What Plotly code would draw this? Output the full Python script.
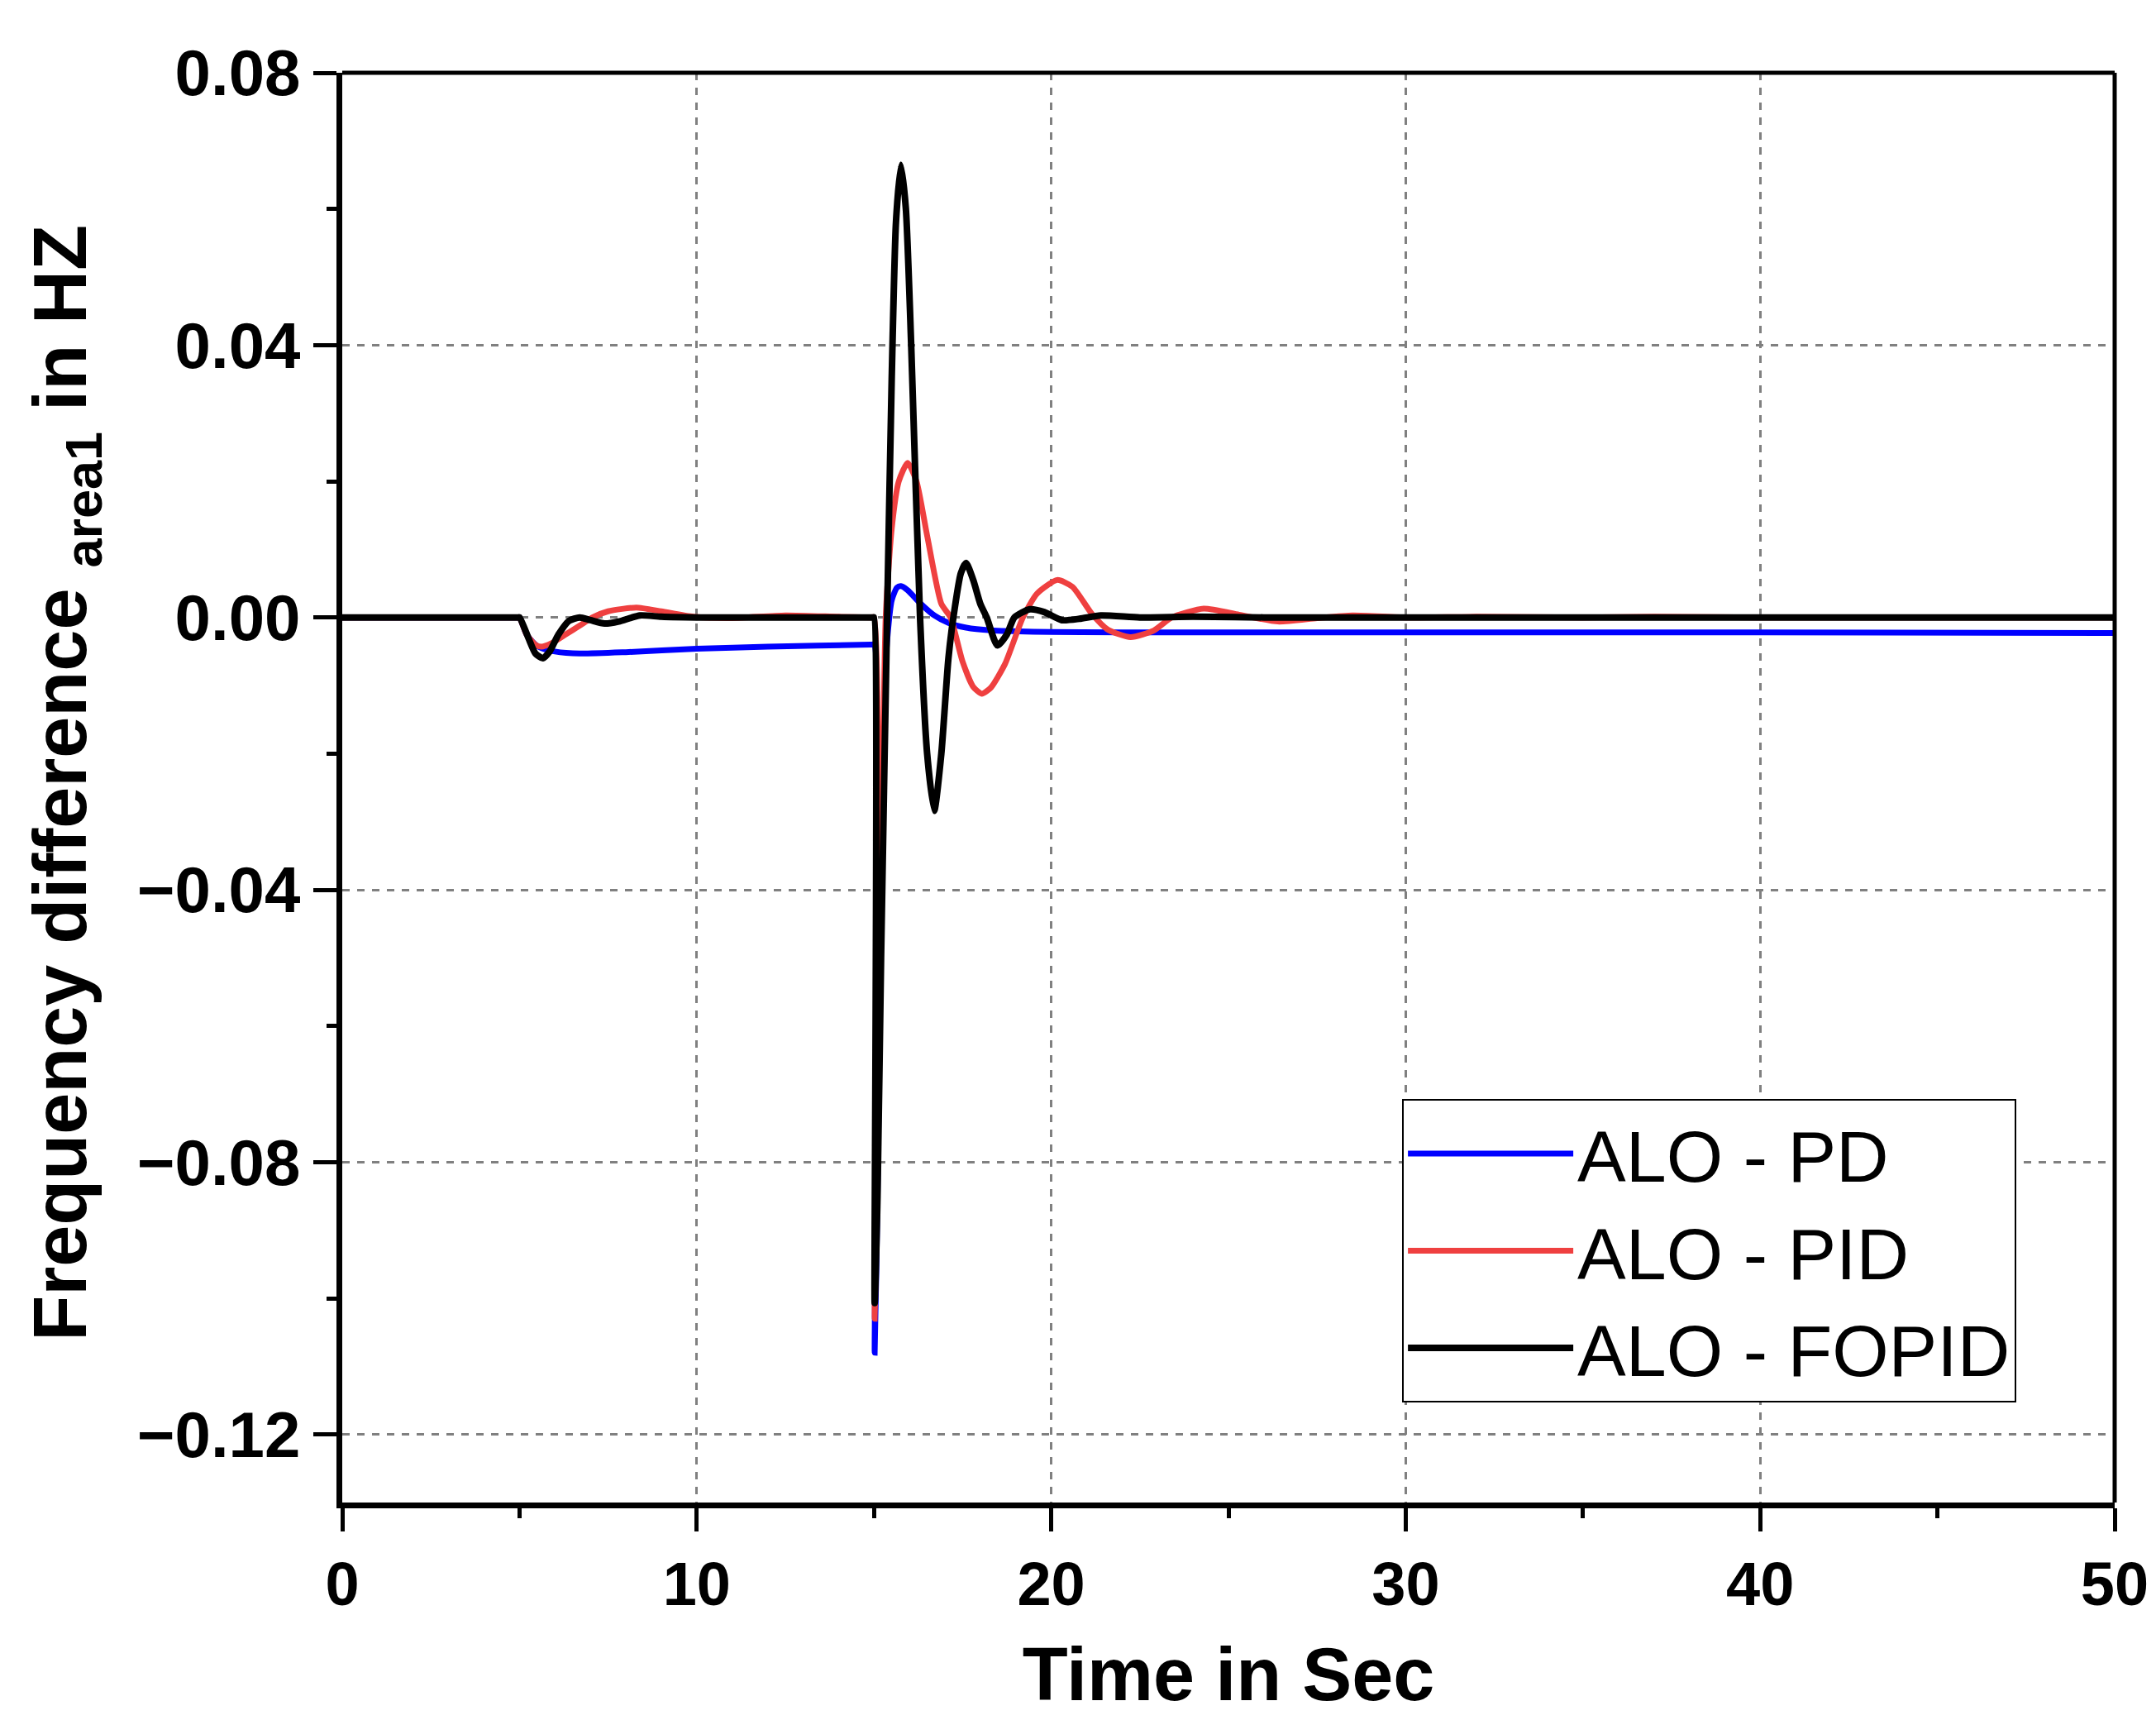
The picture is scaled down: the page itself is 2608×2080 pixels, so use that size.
import plotly.graph_objects as go

# time axis + responses
t_pd = [0, 4.95, 5.0, 5.2, 5.45, 5.62, 6.0, 6.7, 8.0, 10.0, 12.0, 14.9, 15.0,
        15.02, 15.1, 15.2, 15.35, 15.5, 15.65, 15.76, 15.95, 16.3, 16.7, 17.1,
        17.6, 18.3, 19.5, 22.0, 30.0, 40.0, 50.0]
f_pd = [0, 0, 0, -0.0025, -0.0040, -0.0045, -0.0050, -0.0053, -0.0051, -0.0046, -0.0043, -0.0040, -0.0040,
        -0.108, -0.085, -0.045, -0.005, 0.0025, 0.0044, 0.0046, 0.0040, 0.0021, 0.0003, -0.0008,
        -0.0015, -0.0019, -0.0021, -0.0022, -0.0022, -0.0022, -0.0023]

t_pid = [0, 4.95, 5.0, 5.2, 5.45, 5.62, 5.9, 6.3, 6.7, 7.06, 7.5, 8.3, 9.0, 9.9, 11.0, 12.5, 14.0, 14.9, 15.0,
         15.02, 15.1, 15.2, 15.33, 15.5, 15.7, 15.95, 16.2, 16.5, 16.9, 17.16, 17.5, 17.8, 18.04,
         18.3, 18.7, 19.2, 19.6, 20.17, 20.6, 21.15, 21.6, 22.24, 22.9, 23.4, 24.3, 25.3, 26.4,
         27.5, 28.5, 30.0, 32.0, 35.0, 37.0, 40.0, 50.0]
f_pid = [0, 0, 0, -0.0025, -0.0040, -0.0043, -0.0038, -0.0025, -0.0012, 0.0, 0.0009, 0.00146, 0.0009, 0.0001, -0.0001, 0.0003, 0.0001, 0.0, 0.0,
         -0.103, -0.080, -0.045, 0.0, 0.013, 0.020, 0.0227, 0.020, 0.012, 0.002, 0.0, -0.0065, -0.0102, -0.0112,
         -0.0103, -0.0068, 0.0, 0.0035, 0.0055, 0.0045, 0.0005, -0.0018, -0.0029, -0.0019, 0.0, 0.0013, 0.0004, -0.0006,
         -0.0001, 0.0003, 0.0, 0.0001, 0.0, 0.0001, 0.0, 0.0]

t_fopid = [0, 4.95, 5.0, 5.25, 5.45, 5.66, 5.85, 6.1, 6.4, 6.7, 7.0, 7.4, 7.8, 8.4, 9.0, 10.0, 14.9, 14.97, 15.0,
           15.02, 15.1, 15.2, 15.37, 15.5, 15.62, 15.76, 15.9, 16.05, 16.3, 16.5, 16.7, 16.9, 17.1,
           17.24, 17.45, 17.6, 17.8, 18.0, 18.18, 18.48, 18.75, 18.96, 19.4, 19.8, 20.3, 20.8,
           21.4, 22.5, 24.0, 26.0, 50.0]
f_fopid = [0, 0, 0, -0.0030, -0.0053, -0.0060, -0.0050, -0.0025, -0.0005, 0.0, -0.0004, -0.0009, -0.0006, 0.0003, 0.0001, 0.0, 0.0, 0.0, 0.0,
           -0.1007, -0.085, -0.050, 0.0, 0.035, 0.058, 0.0665, 0.060, 0.040, 0.0, -0.020, -0.0284, -0.020, -0.006,
           0.0, 0.0065, 0.008, 0.0055, 0.002, 0.0, -0.0041, -0.0025, 0.0, 0.0012, 0.0008, -0.0004, -0.0002,
           0.0003, 0.0, 0.0001, 0.0, 0.0]

FONT = "Liberation Sans"

fig = go.Figure()
fig.add_trace(go.Scatter(x=t_pd, y=f_pd, mode="lines", name="ALO - PD",
                         line=dict(color="#0000FF", width=7, shape="spline", smoothing=0.6)))
fig.add_trace(go.Scatter(x=t_pid, y=f_pid, mode="lines", name="ALO - PID",
                         line=dict(color="#EF4040", width=7, shape="spline", smoothing=0.6)))
fig.add_trace(go.Scatter(x=t_fopid, y=f_fopid, mode="lines", name="ALO - FOPID",
                         line=dict(color="#000000", width=8, shape="spline", smoothing=0.6)))

axis_common = dict(
    showline=True, linecolor="black", linewidth=7, mirror=False,
    ticks="outside", ticklen=28, tickwidth=5, tickcolor="black",
    showgrid=True, gridcolor="#808080", gridwidth=2.5, griddash="dash",
    zeroline=False,
)

fig.update_layout(
    width=2608, height=2080,
    paper_bgcolor="white", plot_bgcolor="white",
    margin=dict(l=406, r=58, t=80, b=271),
    font=dict(family=FONT, color="black"),
    xaxis=dict(
        range=[0, 50], tickvals=[0, 10, 20, 30, 40, 50],
        tickfont=dict(family=FONT, size=74, color="black", weight="bold"),
        minor=dict(tickvals=[5, 15, 25, 35, 45], ticks="outside", ticklen=12,
                   tickwidth=5, tickcolor="black", showgrid=False),
        title=dict(text="Time in Sec", font=dict(family=FONT, size=90, weight="bold"), standoff=40),
        **axis_common,
    ),
    yaxis=dict(
        range=[-0.13, 0.08], tickvals=[0.08, 0.04, 0.0, -0.04, -0.08, -0.12],
        tickformat=".2f",
        tickfont=dict(family=FONT, size=78, color="black", weight="bold"),
        minor=dict(tickvals=[0.06, 0.02, -0.02, -0.06, -0.10], ticks="outside", ticklen=12,
                   tickwidth=5, tickcolor="black", showgrid=False),
        **axis_common,
    ),
    annotations=[
        dict(text="<b>Frequency difference <sub>area1</sub> in HZ</b>",
             xref="paper", yref="paper", x=-0.156, y=0.503,
             xanchor="center", yanchor="middle", textangle=-90, showarrow=False,
             font=dict(family=FONT, size=90, color="black")),
    ],
    legend=dict(
        x=0.598, y=0.282, xanchor="left", yanchor="top",
        bgcolor="white", bordercolor="black", borderwidth=2,
        font=dict(family=FONT, size=88, color="black"),
        itemwidth=200,
    ),
    # thinner frame on the top and right sides
    shapes=[
        dict(type="line", xref="paper", yref="paper", x0=0, x1=1, y0=1, y1=1,
             line=dict(color="black", width=5)),
        dict(type="line", xref="paper", yref="paper", x0=1, x1=1, y0=0, y1=1,
             line=dict(color="black", width=5)),
    ],
)

fig.write_html("out.html")
